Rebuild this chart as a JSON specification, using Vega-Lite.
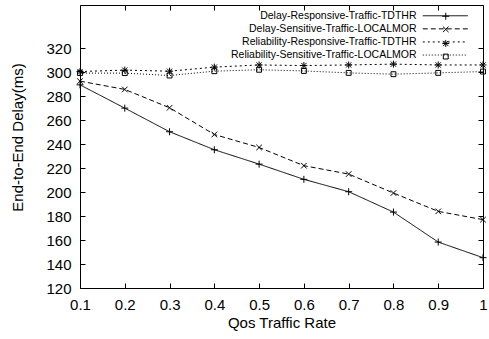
{
  "$schema": "https://vega.github.io/schema/vega-lite/v6.json",
  "width": 403,
  "height": 283,
  "autosize": {"type": "none"},
  "padding": {"left": 80, "top": 5, "right": 6, "bottom": 51},
  "config": {
    "font": "Liberation Sans",
    "view": {"stroke": "black", "strokeWidth": 1},
    "axis": {"grid": false, "domain": false, "tickColor": "black", "tickSize": -5, "labelColor": "black", "titleColor": "black", "labelFontSize": 15, "titleFontSize": 15, "titleFontWeight": "normal", "labelFlush": false}
  },
  "data": {
    "values": [
      {"rate": 0.1, "series": "Delay-Responsive-Traffic-TDTHR", "delay": 289.4},
      {"rate": 0.2, "series": "Delay-Responsive-Traffic-TDTHR", "delay": 270.0},
      {"rate": 0.3, "series": "Delay-Responsive-Traffic-TDTHR", "delay": 250.3},
      {"rate": 0.4, "series": "Delay-Responsive-Traffic-TDTHR", "delay": 235.3},
      {"rate": 0.5, "series": "Delay-Responsive-Traffic-TDTHR", "delay": 223.3},
      {"rate": 0.6, "series": "Delay-Responsive-Traffic-TDTHR", "delay": 210.6},
      {"rate": 0.7, "series": "Delay-Responsive-Traffic-TDTHR", "delay": 200.3},
      {"rate": 0.8, "series": "Delay-Responsive-Traffic-TDTHR", "delay": 183.3},
      {"rate": 0.9, "series": "Delay-Responsive-Traffic-TDTHR", "delay": 158.3},
      {"rate": 1.0, "series": "Delay-Responsive-Traffic-TDTHR", "delay": 145.3},
      {"rate": 0.1, "series": "Delay-Sensitive-Traffic-LOCALMOR", "delay": 292.5},
      {"rate": 0.2, "series": "Delay-Sensitive-Traffic-LOCALMOR", "delay": 285.6},
      {"rate": 0.3, "series": "Delay-Sensitive-Traffic-LOCALMOR", "delay": 270.3},
      {"rate": 0.4, "series": "Delay-Sensitive-Traffic-LOCALMOR", "delay": 248.0},
      {"rate": 0.5, "series": "Delay-Sensitive-Traffic-LOCALMOR", "delay": 237.2},
      {"rate": 0.6, "series": "Delay-Sensitive-Traffic-LOCALMOR", "delay": 222.0},
      {"rate": 0.7, "series": "Delay-Sensitive-Traffic-LOCALMOR", "delay": 215.0},
      {"rate": 0.8, "series": "Delay-Sensitive-Traffic-LOCALMOR", "delay": 199.2},
      {"rate": 0.9, "series": "Delay-Sensitive-Traffic-LOCALMOR", "delay": 183.9},
      {"rate": 1.0, "series": "Delay-Sensitive-Traffic-LOCALMOR", "delay": 177.0},
      {"rate": 0.1, "series": "Reliability-Responsive-Traffic-TDTHR", "delay": 300.5},
      {"rate": 0.2, "series": "Reliability-Responsive-Traffic-TDTHR", "delay": 301.7},
      {"rate": 0.3, "series": "Reliability-Responsive-Traffic-TDTHR", "delay": 300.8},
      {"rate": 0.4, "series": "Reliability-Responsive-Traffic-TDTHR", "delay": 304.2},
      {"rate": 0.5, "series": "Reliability-Responsive-Traffic-TDTHR", "delay": 306.0},
      {"rate": 0.6, "series": "Reliability-Responsive-Traffic-TDTHR", "delay": 305.5},
      {"rate": 0.7, "series": "Reliability-Responsive-Traffic-TDTHR", "delay": 306.0},
      {"rate": 0.8, "series": "Reliability-Responsive-Traffic-TDTHR", "delay": 306.7},
      {"rate": 0.9, "series": "Reliability-Responsive-Traffic-TDTHR", "delay": 306.0},
      {"rate": 1.0, "series": "Reliability-Responsive-Traffic-TDTHR", "delay": 306.0},
      {"rate": 0.1, "series": "Reliability-Sensitive-Traffic-LOCALMOR", "delay": 299.2},
      {"rate": 0.2, "series": "Reliability-Sensitive-Traffic-LOCALMOR", "delay": 299.2},
      {"rate": 0.3, "series": "Reliability-Sensitive-Traffic-LOCALMOR", "delay": 297.2},
      {"rate": 0.4, "series": "Reliability-Sensitive-Traffic-LOCALMOR", "delay": 300.8},
      {"rate": 0.5, "series": "Reliability-Sensitive-Traffic-LOCALMOR", "delay": 302.0},
      {"rate": 0.6, "series": "Reliability-Sensitive-Traffic-LOCALMOR", "delay": 301.0},
      {"rate": 0.7, "series": "Reliability-Sensitive-Traffic-LOCALMOR", "delay": 299.4},
      {"rate": 0.8, "series": "Reliability-Sensitive-Traffic-LOCALMOR", "delay": 298.3},
      {"rate": 0.9, "series": "Reliability-Sensitive-Traffic-LOCALMOR", "delay": 299.4},
      {"rate": 1.0, "series": "Reliability-Sensitive-Traffic-LOCALMOR", "delay": 300.5}
    ]
  },
  "layer": [
    {
      "mark": {"type": "line", "color": "black", "strokeWidth": 1},
      "encoding": {
        "x": {"field": "rate", "type": "quantitative", "scale": {"domain": [0.1, 1], "nice": false, "zero": false},
          "axis": {"orient": "bottom", "values": [0.1, 0.2, 0.3, 0.4, 0.5, 0.6, 0.7, 0.8, 0.9, 1.0], "format": "~g", "labelPadding": 14, "title": "Qos Traffic Rate", "titleY": 34, "titleBaseline": "middle"}},
        "y": {"field": "delay", "type": "quantitative", "scale": {"domain": [120, 356], "nice": false, "zero": false},
          "axis": {"orient": "left", "values": [120, 140, 160, 180, 200, 220, 240, 260, 280, 300, 320], "labelPadding": 14, "title": "End-to-End Delay(ms)", "titleX": -63, "titleY": 132, "titleBaseline": "middle", "titleAlign": "center"}},
        "strokeDash": {"field": "series", "type": "nominal",
          "scale": {"domain": ["Delay-Responsive-Traffic-TDTHR", "Delay-Sensitive-Traffic-LOCALMOR", "Reliability-Responsive-Traffic-TDTHR", "Reliability-Sensitive-Traffic-LOCALMOR"], "range": [[1, 0], [5, 3], [2, 3], [1, 2]]},
          "legend": {"orient": "none", "legendX": 360, "legendY": 5.5, "title": null, "padding": 0, "symbolType": "M-6,0H6", "symbolSize": 56.25, "symbolStrokeColor": "black", "symbolFillColor": "transparent", "symbolStrokeWidth": 1, "symbolOpacity": 1, "labelAlign": "right", "labelOffset": -34, "labelFontSize": 10.5, "labelColor": "black", "rowPadding": 2.1, "labelLimit": 400}}
      }
    },
    {
      "mark": {"type": "point", "filled": false, "color": "black", "strokeWidth": 1, "size": 49, "opacity": 1},
      "encoding": {
        "x": {"field": "rate", "type": "quantitative",
          "axis": {"orient": "top", "values": [0.1, 0.2, 0.3, 0.4, 0.5, 0.6, 0.7, 0.8, 0.9, 1.0], "labels": false, "title": null}},
        "y": {"field": "delay", "type": "quantitative",
          "axis": {"orient": "right", "values": [120, 140, 160, 180, 200, 220, 240, 260, 280, 300, 320], "labels": false, "title": null}},
        "shape": {"field": "series", "type": "nominal",
          "scale": {"range": ["M-1,0H1M0,-1V1", "M-0.8,-0.8L0.8,0.8M-0.8,0.8L0.8,-0.8", "M-1,0H1M0,-1V1M-0.75,-0.75L0.75,0.75M-0.75,0.75L0.75,-0.75", "M-0.7,-0.7H0.7V0.7H-0.7Z"]},
          "legend": {"orient": "none", "legendX": 360.5, "legendY": 6, "title": null, "padding": 0, "symbolSize": 49, "symbolStrokeColor": "black", "symbolFillColor": "transparent", "symbolStrokeWidth": 1, "labelExpr": "' '", "labelFontSize": 10.5, "rowPadding": 2.1}}
      }
    }
  ]
}
